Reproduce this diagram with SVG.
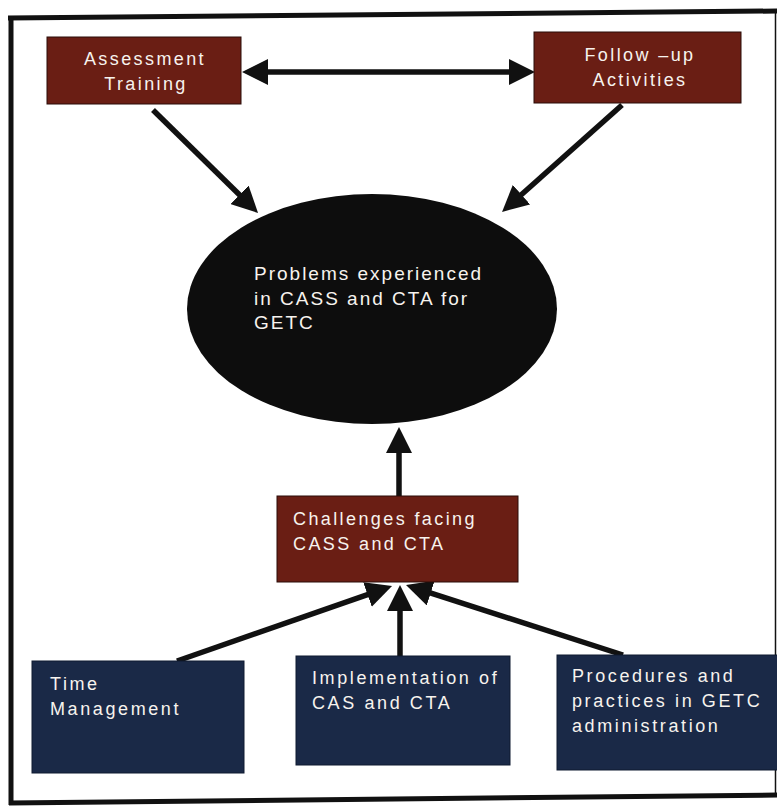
<svg xmlns="http://www.w3.org/2000/svg" width="777" height="807" viewBox="0 0 777 807">
<defs>
<marker id="ah" viewBox="0 0 26 26" markerWidth="26" markerHeight="26" markerUnits="userSpaceOnUse" refX="16" refY="13" orient="auto-start-reverse">
<path d="M0,0 L26,13 L0,26 z" fill="#111"/>
</marker>
<style>
.red{fill:#6a1e14;stroke:#2a0c08;stroke-width:1}
.navy{fill:#1a2947;stroke:#0f1a30;stroke-width:1}
.t{font-family:"Liberation Sans",Arial,sans-serif;fill:#f7f3ee;font-size:18px;letter-spacing:2.4px}
.tb{font-family:"Liberation Sans",Arial,sans-serif;fill:#f7f3ee;font-size:18px;letter-spacing:2.6px}
.te{font-family:"Liberation Sans",Arial,sans-serif;fill:#f7f3ee;font-size:19px;letter-spacing:2px}
.c{stroke:#111;stroke-width:5.5;fill:none;marker-end:url(#ah)}
.frame{stroke:#111;fill:none}
</style>
</defs>
<rect x="0" y="0" width="777" height="807" fill="#ffffff"/>
<g id="frame">
<line class="frame" x1="8" y1="18" x2="777" y2="11" stroke-width="5"/>
<line class="frame" x1="11" y1="16" x2="11" y2="805" stroke-width="5"/>
<line class="frame" x1="9" y1="803" x2="777" y2="795" stroke-width="5"/>
<line class="frame" x1="775.5" y1="11" x2="775.5" y2="795" stroke-width="1.5" stroke="#333"/>
</g>
<g id="connectors">
<line class="c" x1="252" y1="72" x2="525" y2="72" marker-start="url(#ah)"/>
<line class="c" x1="153" y1="110" x2="250.9" y2="206"/>
<line class="c" x1="622" y1="105" x2="509.5" y2="205.3"/>
<line class="c" x1="399" y1="496" x2="399" y2="437"/>
<line class="c" x1="177" y1="661" x2="382.6" y2="589.3"/>
<line class="c" x1="400" y1="657" x2="400" y2="595"/>
<line class="c" x1="623" y1="655" x2="415.5" y2="588.1"/>
</g>
<g id="assessment-training">
<rect class="red" x="47" y="37" width="194" height="67"/>
<text class="t" x="145" y="65" text-anchor="middle">Assessment</text>
<text class="t" x="146" y="90" text-anchor="middle">Training</text>
</g>
<g id="follow-up-activities">
<rect class="red" x="534" y="32" width="207" height="71"/>
<text class="t" x="640" y="61" text-anchor="middle">Follow –up</text>
<text class="t" x="640" y="86" text-anchor="middle">Activities</text>
</g>
<g id="problems">
<ellipse cx="372" cy="309" rx="185" ry="115" fill="#0d0d0d"/>
<text class="te" x="254" y="280">Problems experienced</text>
<text class="te" x="254" y="305">in CASS and CTA for</text>
<text class="te" x="254" y="329">GETC</text>
</g>
<g id="challenges">
<rect class="red" x="277" y="496" width="241" height="86"/>
<text class="t" x="293" y="525">Challenges facing</text>
<text class="t" x="293" y="550">CASS and CTA</text>
</g>
<g id="time-management">
<rect class="navy" x="32" y="661" width="212" height="112"/>
<text class="tb" x="50" y="690">Time</text>
<text class="tb" x="50" y="715">Management</text>
</g>
<g id="implementation">
<rect class="navy" x="296" y="656" width="214" height="109"/>
<text class="tb" x="312" y="684">Implementation of</text>
<text class="tb" x="312" y="709">CAS and CTA</text>
</g>
<g id="procedures">
<rect class="navy" x="557" y="655" width="222" height="115"/>
<text class="tb" x="572" y="682">Procedures and</text>
<text class="tb" x="572" y="707">practices in GETC</text>
<text class="tb" x="572" y="732">administration</text>
</g>
</svg>
